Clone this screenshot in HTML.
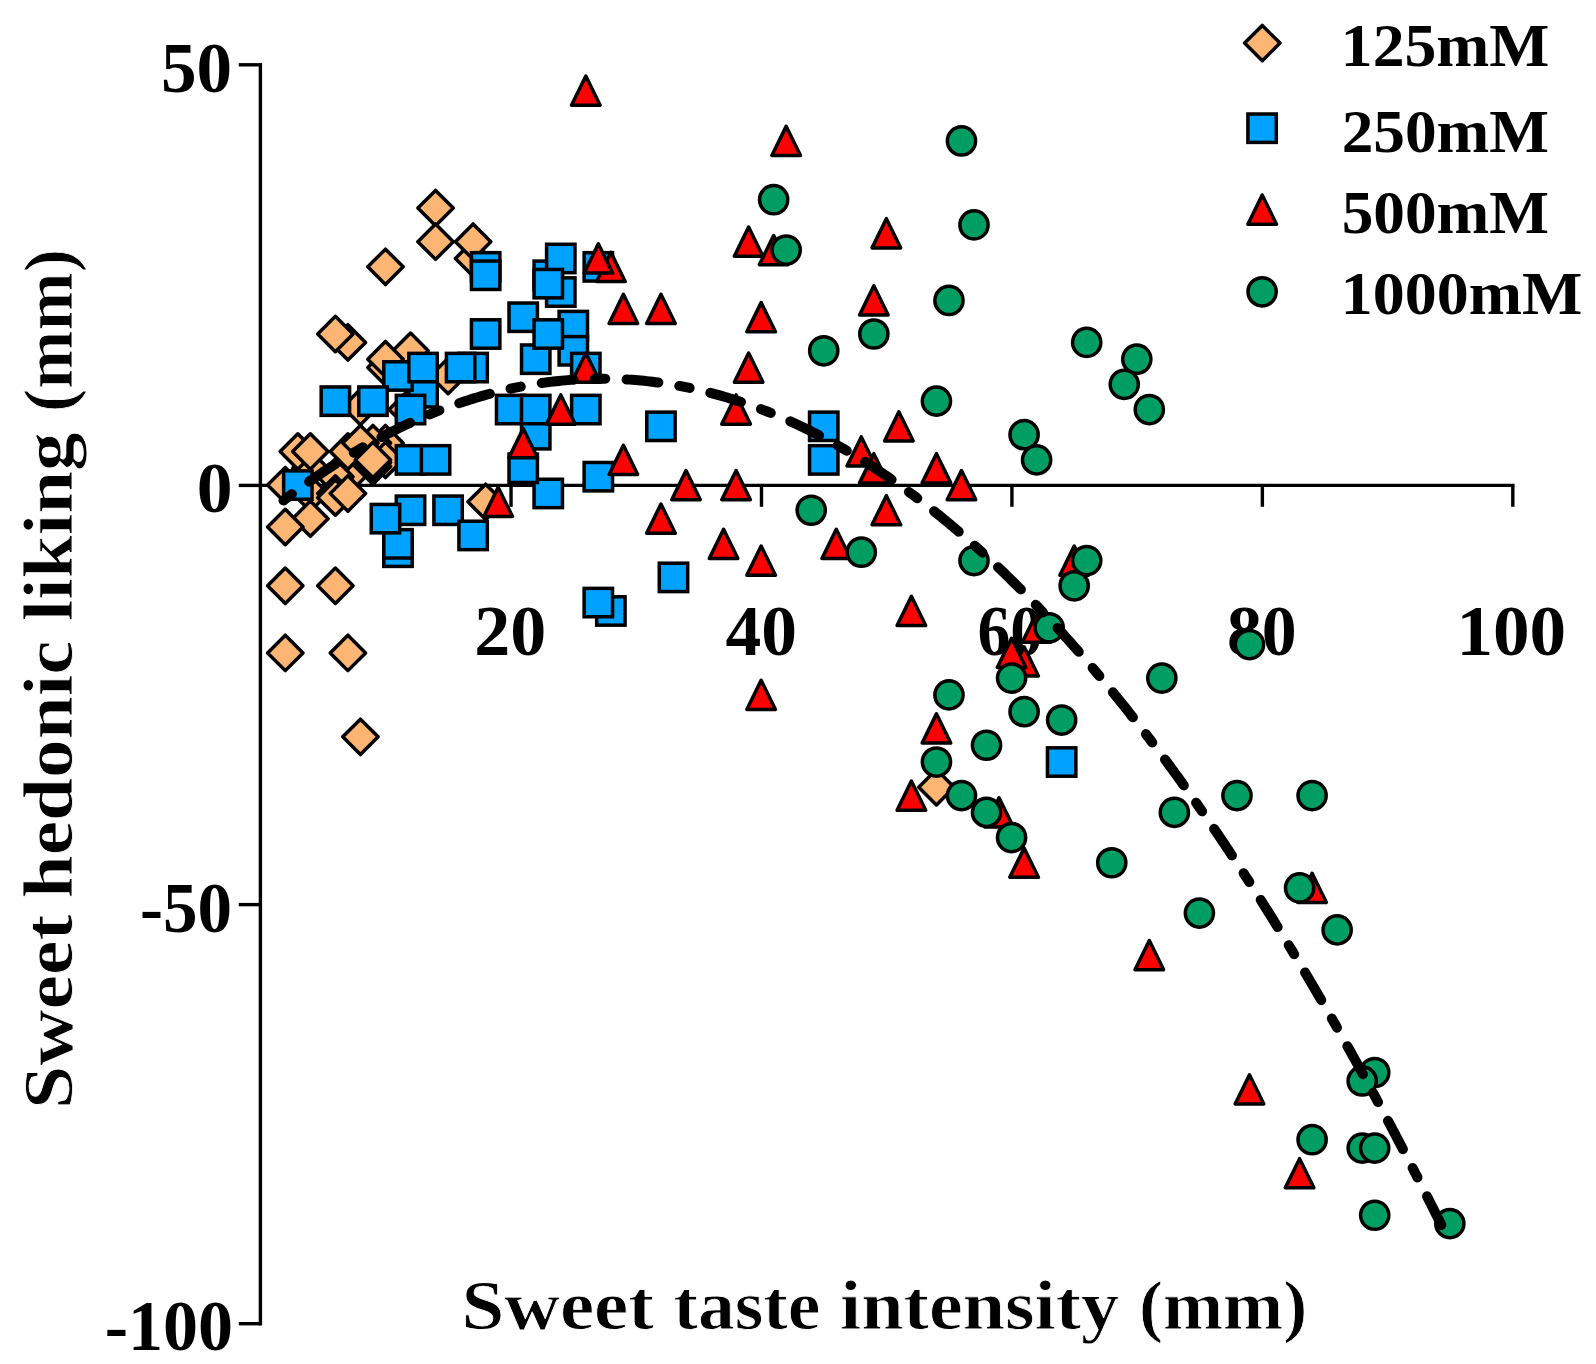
<!DOCTYPE html>
<html lang="en"><head><meta charset="utf-8"><title>Sweet hedonic liking vs sweet taste intensity</title>
<style>html,body{margin:0;padding:0;background:#fff}svg{display:block}text{font-family:"Liberation Serif","DejaVu Serif",serif;font-weight:bold;fill:#000}.t{stroke:#fff;stroke-width:.8px;stroke-linejoin:round}</style></head><body>
<svg width="1596" height="1364" viewBox="0 0 1596 1364">
<rect width="1596" height="1364" fill="#fff"/>
<g stroke="#000" stroke-width="3.4" fill="none" stroke-linecap="butt">
<path d="M260.4 63.1V1325.4"/>
<path d="M258.7 485.35H1514.5"/>
<path d="M238.8 64.8H260.4"/>
<path d="M238.8 485.4H260.4"/>
<path d="M238.8 904.6H260.4"/>
<path d="M238.8 1323.7H260.4"/>
<path d="M511.04 485.35V506.8"/>
<path d="M761.48 485.35V506.8"/>
<path d="M1011.92 485.35V506.8"/>
<path d="M1262.36 485.35V506.8"/>
<path d="M1512.8 485.35V506.8"/>
</g>
<text x="1340.8" y="65.7" font-size="61.5" textLength="208.68" lengthAdjust="spacingAndGlyphs">125mM</text>
<text x="1341.7" y="151.6" font-size="61.5" textLength="207.35" lengthAdjust="spacingAndGlyphs">250mM</text>
<text x="1341.7" y="233.1" font-size="61.5" textLength="207.35" lengthAdjust="spacingAndGlyphs">500mM</text>
<text x="1340.8" y="314" font-size="61.5" textLength="241.48" lengthAdjust="spacingAndGlyphs">1000mM</text>
<text x="160.9" y="92.4" font-size="71" textLength="71.15" lengthAdjust="spacingAndGlyphs">50</text>
<text x="196.8" y="512.4" font-size="71" textLength="35.8" lengthAdjust="spacingAndGlyphs">0</text>
<text x="140" y="931.8" font-size="71" textLength="92.1" lengthAdjust="spacingAndGlyphs">-50</text>
<text x="104.7" y="1349.8" font-size="71" textLength="128.39" lengthAdjust="spacingAndGlyphs">-100</text>
<text x="474.3" y="655" font-size="71" textLength="72" lengthAdjust="spacingAndGlyphs">20</text>
<text x="725.5" y="655" font-size="71" textLength="71.51" lengthAdjust="spacingAndGlyphs">40</text>
<text x="977.4" y="655" font-size="71" textLength="65.51" lengthAdjust="spacingAndGlyphs">60</text>
<text x="1226.9" y="655" font-size="71" textLength="69.77" lengthAdjust="spacingAndGlyphs">80</text>
<text x="1456.4" y="655" font-size="71" textLength="109.73" lengthAdjust="spacingAndGlyphs">100</text>
<text class="t" x="461.5" y="1329.2" font-size="69.5" textLength="192.39" lengthAdjust="spacingAndGlyphs">Sweet</text>
<text class="t" x="673.5" y="1329.2" font-size="69.5" textLength="146.98" lengthAdjust="spacingAndGlyphs">taste</text>
<text class="t" x="840.1" y="1329.2" font-size="69.5" textLength="279.03" lengthAdjust="spacingAndGlyphs">intensity</text>
<text class="t" x="1138.9" y="1329.2" font-size="69.5" textLength="168.39" lengthAdjust="spacingAndGlyphs">(mm)</text>
<text class="t" transform="translate(72.3 1109) rotate(-90)" font-size="69.5" textLength="194.5" lengthAdjust="spacingAndGlyphs">Sweet</text>
<text class="t" transform="translate(72.3 898.3) rotate(-90)" font-size="69.5" textLength="257.87" lengthAdjust="spacingAndGlyphs">hedonic</text>
<text class="t" transform="translate(72.3 621.2) rotate(-90)" font-size="69.5" textLength="188.94" lengthAdjust="spacingAndGlyphs">liking</text>
<text class="t" transform="translate(72.3 411.9) rotate(-90)" font-size="69.5" textLength="162.8" lengthAdjust="spacingAndGlyphs">(mm)</text>
<g stroke="#000" stroke-width="3.5" stroke-linejoin="round">
<g fill="#fdb574">
<path d="M435.56 190.41L453.26 208.11L435.56 225.81L417.86 208.11Z"/>
<path d="M435.56 223.98L453.26 241.68L435.56 259.38L417.86 241.68Z"/>
<path d="M473.12 240.77L490.82 258.47L473.12 276.17L455.42 258.47Z"/>
<path d="M473.12 223.98L490.82 241.68L473.12 259.38L455.42 241.68Z"/>
<path d="M385.47 249.16L403.17 266.86L385.47 284.56L367.77 266.86Z"/>
<path d="M347.9 324.7L365.6 342.4L347.9 360.1L330.2 342.4Z"/>
<path d="M335.38 316.3L353.08 334L335.38 351.7L317.68 334Z"/>
<path d="M410.51 333.09L428.21 350.79L410.51 368.49L392.81 350.79Z"/>
<path d="M385.47 349.87L403.17 367.57L385.47 385.27L367.77 367.57Z"/>
<path d="M385.47 341.48L403.17 359.18L385.47 376.88L367.77 359.18Z"/>
<path d="M448.08 358.27L465.78 375.97L448.08 393.67L430.38 375.97Z"/>
<path d="M360.43 389.32L378.13 407.02L360.43 424.72L342.73 407.02Z"/>
<path d="M406.76 391.84L424.46 409.54L406.76 427.24L389.06 409.54Z"/>
<path d="M310.34 450.58L328.04 468.28L310.34 485.98L292.64 468.28Z"/>
<path d="M297.82 433.8L315.52 451.5L297.82 469.2L280.12 451.5Z"/>
<path d="M310.34 433.8L328.04 451.5L310.34 469.2L292.64 451.5Z"/>
<path d="M285.29 467.37L302.99 485.07L285.29 502.77L267.59 485.07Z"/>
<path d="M347.9 458.98L365.6 476.68L347.9 494.38L330.2 476.68Z"/>
<path d="M335.38 458.98L353.08 476.68L335.38 494.38L317.68 476.68Z"/>
<path d="M385.47 425.41L403.17 443.11L385.47 460.81L367.77 443.11Z"/>
<path d="M372.95 425.41L390.65 443.11L372.95 460.81L355.25 443.11Z"/>
<path d="M347.9 433.8L365.6 451.5L347.9 469.2L330.2 451.5Z"/>
<path d="M360.43 425.41L378.13 443.11L360.43 460.81L342.73 443.11Z"/>
<path d="M385.47 442.19L403.17 459.89L385.47 477.59L367.77 459.89Z"/>
<path d="M372.95 448.91L390.65 466.61L372.95 484.31L355.25 466.61Z"/>
<path d="M372.95 444.71L390.65 462.41L372.95 480.11L355.25 462.41Z"/>
<path d="M372.95 442.19L390.65 459.89L372.95 477.59L355.25 459.89Z"/>
<path d="M310.34 475.76L328.04 493.46L310.34 511.16L292.64 493.46Z"/>
<path d="M335.38 475.76L353.08 493.46L335.38 511.16L317.68 493.46Z"/>
<path d="M335.38 479.96L353.08 497.66L335.38 515.36L317.68 497.66Z"/>
<path d="M347.9 475.76L365.6 493.46L347.9 511.16L330.2 493.46Z"/>
<path d="M310.34 500.94L328.04 518.64L310.34 536.34L292.64 518.64Z"/>
<path d="M285.29 509.33L302.99 527.03L285.29 544.73L267.59 527.03Z"/>
<path d="M285.29 568.08L302.99 585.78L285.29 603.48L267.59 585.78Z"/>
<path d="M335.38 568.08L353.08 585.78L335.38 603.48L317.68 585.78Z"/>
<path d="M285.29 635.22L302.99 652.92L285.29 670.62L267.59 652.92Z"/>
<path d="M347.9 635.22L365.6 652.92L347.9 670.62L330.2 652.92Z"/>
<path d="M485.65 484.16L503.35 501.86L485.65 519.56L467.95 501.86Z"/>
<path d="M936.44 769.5L954.14 787.2L936.44 804.9L918.74 787.2Z"/>
<path d="M360.43 719.15L378.13 736.85L360.43 754.55L342.73 736.85Z"/>
<path d="M1262.3 25.4L1280 43.1L1262.3 60.8L1244.6 43.1Z"/>
</g><g fill="#00a2ff" stroke-linejoin="miter">
<rect x="471.45" y="252.66" width="28.4" height="28.4"/>
<rect x="471.45" y="261.06" width="28.4" height="28.4"/>
<rect x="534.06" y="261.06" width="28.4" height="28.4"/>
<rect x="546.58" y="244.27" width="28.4" height="28.4"/>
<rect x="546.58" y="277.84" width="28.4" height="28.4"/>
<rect x="534.06" y="269.45" width="28.4" height="28.4"/>
<rect x="584.14" y="252.66" width="28.4" height="28.4"/>
<rect x="509.01" y="303.02" width="28.4" height="28.4"/>
<rect x="559.1" y="311.41" width="28.4" height="28.4"/>
<rect x="521.53" y="344.98" width="28.4" height="28.4"/>
<rect x="559.1" y="336.59" width="28.4" height="28.4"/>
<rect x="534.06" y="319.8" width="28.4" height="28.4"/>
<rect x="571.62" y="353.37" width="28.4" height="28.4"/>
<rect x="458.92" y="353.37" width="28.4" height="28.4"/>
<rect x="446.4" y="353.37" width="28.4" height="28.4"/>
<rect x="471.45" y="319.8" width="28.4" height="28.4"/>
<rect x="408.84" y="378.55" width="28.4" height="28.4"/>
<rect x="383.79" y="361.77" width="28.4" height="28.4"/>
<rect x="408.84" y="353.37" width="28.4" height="28.4"/>
<rect x="396.31" y="395.34" width="28.4" height="28.4"/>
<rect x="321.18" y="386.94" width="28.4" height="28.4"/>
<rect x="358.75" y="386.94" width="28.4" height="28.4"/>
<rect x="496.49" y="395.34" width="28.4" height="28.4"/>
<rect x="521.53" y="420.51" width="28.4" height="28.4"/>
<rect x="521.53" y="395.34" width="28.4" height="28.4"/>
<rect x="571.62" y="395.34" width="28.4" height="28.4"/>
<rect x="646.75" y="412.12" width="28.4" height="28.4"/>
<rect x="809.54" y="412.12" width="28.4" height="28.4"/>
<rect x="809.54" y="445.69" width="28.4" height="28.4"/>
<rect x="534.06" y="479.26" width="28.4" height="28.4"/>
<rect x="509.01" y="454.08" width="28.4" height="28.4"/>
<rect x="584.14" y="462.48" width="28.4" height="28.4"/>
<rect x="283.62" y="470.87" width="28.4" height="28.4"/>
<rect x="396.31" y="445.69" width="28.4" height="28.4"/>
<rect x="421.36" y="445.69" width="28.4" height="28.4"/>
<rect x="396.31" y="496.05" width="28.4" height="28.4"/>
<rect x="383.79" y="538.01" width="28.4" height="28.4"/>
<rect x="383.79" y="529.62" width="28.4" height="28.4"/>
<rect x="371.27" y="504.44" width="28.4" height="28.4"/>
<rect x="433.88" y="496.05" width="28.4" height="28.4"/>
<rect x="458.92" y="521.23" width="28.4" height="28.4"/>
<rect x="596.67" y="596.76" width="28.4" height="28.4"/>
<rect x="584.14" y="588.37" width="28.4" height="28.4"/>
<rect x="659.28" y="563.19" width="28.4" height="28.4"/>
<rect x="1047.46" y="747.83" width="28.4" height="28.4"/>
<rect x="1247.9" y="114" width="28.4" height="28.4"/>
</g><g fill="#ff0000">
<path d="M585.82 76.02L600.12 105.22L571.52 105.22Z"/>
<path d="M786.17 126.37L800.47 155.57L771.87 155.57Z"/>
<path d="M748.61 227.08L762.91 256.28L734.31 256.28Z"/>
<path d="M773.65 235.48L787.95 264.68L759.35 264.68Z"/>
<path d="M886.35 218.69L900.65 247.89L872.05 247.89Z"/>
<path d="M610.87 252.26L625.17 281.46L596.57 281.46Z"/>
<path d="M598.34 243.87L612.64 273.07L584.04 273.07Z"/>
<path d="M623.39 294.23L637.69 323.43L609.09 323.43Z"/>
<path d="M660.95 294.23L675.25 323.43L646.65 323.43Z"/>
<path d="M761.13 302.62L775.43 331.82L746.83 331.82Z"/>
<path d="M873.83 285.83L888.13 315.03L859.53 315.03Z"/>
<path d="M748.61 352.97L762.91 382.17L734.31 382.17Z"/>
<path d="M585.82 352.97L600.12 382.17L571.52 382.17Z"/>
<path d="M560.78 394.94L575.08 424.14L546.48 424.14Z"/>
<path d="M736.09 394.94L750.39 424.14L721.79 424.14Z"/>
<path d="M898.87 411.72L913.17 440.92L884.57 440.92Z"/>
<path d="M523.21 428.51L537.51 457.71L508.91 457.71Z"/>
<path d="M623.39 445.29L637.69 474.49L609.09 474.49Z"/>
<path d="M498.17 487.26L512.47 516.46L483.87 516.46Z"/>
<path d="M686 470.47L700.3 499.67L671.7 499.67Z"/>
<path d="M660.95 504.04L675.25 533.24L646.65 533.24Z"/>
<path d="M736.09 470.47L750.39 499.67L721.79 499.67Z"/>
<path d="M723.56 529.22L737.86 558.42L709.26 558.42Z"/>
<path d="M761.13 546L775.43 575.2L746.83 575.2Z"/>
<path d="M836.26 529.22L850.56 558.42L821.96 558.42Z"/>
<path d="M886.35 495.65L900.65 524.85L872.05 524.85Z"/>
<path d="M936.44 453.68L950.74 482.88L922.14 482.88Z"/>
<path d="M961.48 470.47L975.78 499.67L947.18 499.67Z"/>
<path d="M861.31 436.9L875.61 466.1L847.01 466.1Z"/>
<path d="M873.83 453.68L888.13 482.88L859.53 482.88Z"/>
<path d="M911.39 596.36L925.69 625.56L897.09 625.56Z"/>
<path d="M761.13 680.28L775.43 709.49L746.83 709.49Z"/>
<path d="M936.44 713.86L950.74 743.06L922.14 743.06Z"/>
<path d="M1074.18 546L1088.48 575.2L1059.88 575.2Z"/>
<path d="M1036.61 613.14L1050.91 642.34L1022.31 642.34Z"/>
<path d="M1024.09 646.71L1038.39 675.91L1009.79 675.91Z"/>
<path d="M1011.57 638.32L1025.87 667.52L997.27 667.52Z"/>
<path d="M1024.09 848.14L1038.39 877.34L1009.79 877.34Z"/>
<path d="M999.05 797.78L1013.35 826.98L984.75 826.98Z"/>
<path d="M1312.1 873.31L1326.4 902.51L1297.8 902.51Z"/>
<path d="M1149.31 940.46L1163.61 969.66L1135.01 969.66Z"/>
<path d="M911.39 781L925.69 810.2L897.09 810.2Z"/>
<path d="M1249.49 1074.74L1263.79 1103.94L1235.19 1103.94Z"/>
<path d="M1299.58 1158.66L1313.88 1187.86L1285.28 1187.86Z"/>
<path d="M1262.2 195L1276.5 224.2L1247.9 224.2Z"/>
</g><g fill="#009e62">
<circle cx="961.48" cy="140.97" r="14.1"/>
<circle cx="773.65" cy="199.72" r="14.1"/>
<circle cx="974" cy="224.9" r="14.1"/>
<circle cx="786.17" cy="250.08" r="14.1"/>
<circle cx="948.96" cy="300.43" r="14.1"/>
<circle cx="873.83" cy="334" r="14.1"/>
<circle cx="823.74" cy="350.79" r="14.1"/>
<circle cx="936.44" cy="401.14" r="14.1"/>
<circle cx="1086.7" cy="342.4" r="14.1"/>
<circle cx="1136.79" cy="359.18" r="14.1"/>
<circle cx="1124.27" cy="384.36" r="14.1"/>
<circle cx="1149.31" cy="409.54" r="14.1"/>
<circle cx="1024.09" cy="434.71" r="14.1"/>
<circle cx="1036.61" cy="459.89" r="14.1"/>
<circle cx="811.22" cy="510.25" r="14.1"/>
<circle cx="861.31" cy="552.21" r="14.1"/>
<circle cx="974" cy="560.6" r="14.1"/>
<circle cx="1074.18" cy="585.78" r="14.1"/>
<circle cx="1086.7" cy="560.6" r="14.1"/>
<circle cx="1049.14" cy="627.74" r="14.1"/>
<circle cx="1249.49" cy="644.53" r="14.1"/>
<circle cx="1161.83" cy="678.1" r="14.1"/>
<circle cx="1011.57" cy="678.1" r="14.1"/>
<circle cx="1024.09" cy="711.67" r="14.1"/>
<circle cx="1061.66" cy="720.06" r="14.1"/>
<circle cx="948.96" cy="694.88" r="14.1"/>
<circle cx="986.53" cy="745.24" r="14.1"/>
<circle cx="936.44" cy="762.03" r="14.1"/>
<circle cx="961.48" cy="795.6" r="14.1"/>
<circle cx="986.53" cy="812.38" r="14.1"/>
<circle cx="1011.57" cy="837.56" r="14.1"/>
<circle cx="1236.97" cy="795.6" r="14.1"/>
<circle cx="1312.1" cy="795.6" r="14.1"/>
<circle cx="1174.36" cy="812.38" r="14.1"/>
<circle cx="1111.75" cy="862.74" r="14.1"/>
<circle cx="1299.58" cy="887.91" r="14.1"/>
<circle cx="1199.4" cy="913.09" r="14.1"/>
<circle cx="1337.14" cy="929.88" r="14.1"/>
<circle cx="1374.71" cy="1072.55" r="14.1"/>
<circle cx="1362.19" cy="1080.94" r="14.1"/>
<circle cx="1312.1" cy="1139.69" r="14.1"/>
<circle cx="1362.19" cy="1148.09" r="14.1"/>
<circle cx="1374.71" cy="1148.09" r="14.1"/>
<circle cx="1374.71" cy="1215.23" r="14.1"/>
<circle cx="1449.84" cy="1223.62" r="14.1"/>
<circle cx="1262.1" cy="291.8" r="14.1"/>
</g></g>
<path d="M283.52 500.41L285.61 498.82L287.7 497.24L289.8 495.66L291.91 494.09M309.12 481.63L311.5 479.96L313.89 478.3L316.29 476.65L318.69 475.01L321.1 473.38L323.51 471.76L325.94 470.15L328.36 468.55L330.8 466.96L333.24 465.37L335.69 463.8M353.77 452.64L356.03 451.3L358.29 449.97L360.56 448.65L362.83 447.33M381.44 437.07L384.01 435.71L386.59 434.37L389.18 433.04L391.77 431.73L394.37 430.42L396.98 429.13L399.59 427.85L402.21 426.59L404.84 425.34L407.47 424.1L410.11 422.88M429.58 414.37L432.01 413.37L434.44 412.38L436.88 411.41L439.32 410.45M459.27 403.14L462.03 402.2L464.79 401.29L467.56 400.38L470.33 399.5L473.1 398.63L475.89 397.78L478.67 396.95L481.46 396.13L484.26 395.33L487.06 394.55L489.87 393.78M510.51 388.74L513.08 388.19L515.65 387.65L518.22 387.12L520.79 386.62M541.74 383.06L544.62 382.66L547.51 382.27L550.39 381.9L553.28 381.56L556.17 381.23L559.06 380.92L561.96 380.63L564.86 380.37L567.75 380.12L570.65 379.89L573.56 379.68M594.78 378.78L597.41 378.75L600.03 378.73L602.66 378.72L605.28 378.74M626.52 379.45L629.42 379.63L632.33 379.83L635.23 380.06L638.12 380.3L641.02 380.56L643.92 380.84L646.81 381.15L649.7 381.47L652.59 381.81L655.48 382.17L658.36 382.55M679.34 385.93L681.92 386.42L684.5 386.92L687.07 387.44L689.64 387.97M710.32 392.84L713.13 393.59L715.94 394.35L718.74 395.12L721.54 395.92L724.34 396.73L727.12 397.56L729.91 398.41L732.69 399.27L735.46 400.15L738.23 401.05L740.99 401.96M760.99 409.12L763.44 410.07L765.89 411.02L768.33 411.99L770.76 412.97M790.29 421.35L792.94 422.56L795.58 423.78L798.21 425.01L800.84 426.26L803.46 427.52L806.08 428.79L808.68 430.08L811.29 431.38L813.88 432.69L816.47 434.02L819.05 435.36M837.72 445.51L840 446.81L842.28 448.12L844.55 449.44L846.81 450.76M864.95 461.83L867.41 463.39L869.86 464.96L872.3 466.54L874.74 468.13L877.17 469.73L879.59 471.34L882.01 472.95L884.42 474.58L886.82 476.22L889.22 477.87L891.61 479.53M908.89 491.9L911 493.46L913.1 495.03L915.2 496.61L917.3 498.19M934.07 511.23L936.34 513.05L938.61 514.88L940.86 516.71L943.12 518.55L945.37 520.4L947.61 522.25L949.84 524.11L952.07 525.98L954.29 527.86L956.51 529.74L958.72 531.63M974.71 545.63L976.66 547.39L978.61 549.15L980.55 550.91L982.49 552.68M998.03 567.17L1000.14 569.18L1002.24 571.19L1004.33 573.21L1006.42 575.24L1008.5 577.27L1010.58 579.3L1012.66 581.34L1014.72 583.39L1016.79 585.44L1018.85 587.5L1020.9 589.56M1035.74 604.76L1037.56 606.66L1039.37 608.56L1041.18 610.46L1042.98 612.37M1057.44 627.94L1059.4 630.09L1061.36 632.24L1063.31 634.4L1065.26 636.56L1067.2 638.72L1069.14 640.89L1071.07 643.07L1073 645.25L1074.92 647.43L1076.84 649.61L1078.76 651.8M1092.62 667.91L1094.32 669.91L1096.01 671.92L1097.7 673.93L1099.39 675.94M1112.92 692.32L1114.75 694.58L1116.59 696.84L1118.41 699.1L1120.24 701.37L1122.06 703.64L1123.87 705.91L1125.68 708.19L1127.49 710.47L1129.3 712.75L1131.1 715.03L1132.9 717.32M1145.91 734.12L1147.5 736.21L1149.09 738.29L1150.68 740.38L1152.27 742.48M1164.99 759.49L1166.72 761.83L1168.45 764.18L1170.17 766.52L1171.89 768.87L1173.6 771.22L1175.31 773.57L1177.02 775.93L1178.72 778.29L1180.42 780.65L1182.12 783.01L1183.82 785.37M1196.1 802.72L1197.6 804.87L1199.1 807.02L1200.6 809.17L1202.1 811.33M1214.13 828.84L1215.77 831.25L1217.4 833.66L1219.03 836.07L1220.65 838.48L1222.27 840.9L1223.89 843.31L1225.51 845.73L1227.12 848.15L1228.74 850.57L1230.34 853L1231.95 855.42M1243.59 873.2L1245.02 875.41L1246.44 877.61L1247.87 879.82L1249.29 882.02M1260.71 899.94L1262.26 902.4L1263.82 904.86L1265.36 907.33L1266.91 909.79L1268.45 912.26L1269.99 914.72L1271.53 917.19L1273.06 919.67L1274.6 922.14L1276.12 924.61L1277.65 927.09M1288.73 945.22L1290.09 947.47L1291.45 949.71L1292.81 951.96L1294.16 954.21M1305.05 972.46L1306.53 974.96L1308.01 977.47L1309.49 979.97L1310.96 982.48L1312.43 984.99L1313.9 987.5L1315.37 990.01L1316.84 992.52L1318.3 995.04L1319.76 997.55L1321.22 1000.07M1331.81 1018.5L1333.11 1020.78L1334.4 1023.06L1335.7 1025.34L1336.99 1027.62M1347.41 1046.15L1348.83 1048.69L1350.24 1051.23L1351.66 1053.77L1353.07 1056.31L1354.48 1058.86L1355.89 1061.41L1357.29 1063.95L1358.69 1066.5L1360.1 1069.05L1361.5 1071.6L1362.89 1074.15M1373.04 1092.82L1374.29 1095.13L1375.53 1097.44L1376.78 1099.76L1378.02 1102.07M1388.01 1120.82L1389.37 1123.39L1390.73 1125.96L1392.09 1128.54L1393.45 1131.11L1394.8 1133.69L1396.15 1136.26L1397.5 1138.84L1398.85 1141.42L1400.19 1144L1401.54 1146.58L1402.88 1149.16M1412.64 1168.03L1413.83 1170.37L1415.03 1172.71L1416.23 1175.04L1417.42 1177.38M1427.04 1196.33L1428.35 1198.93L1429.66 1201.53L1430.96 1204.12L1432.27 1206.72L1433.57 1209.33L1434.87 1211.93L1436.17 1214.53L1437.47 1217.13L1438.77 1219.74L1440.06 1222.34L1441.36 1224.95" fill="none" stroke="#000" stroke-width="10" stroke-linecap="round" stroke-linejoin="round"/>
</svg></body></html>
